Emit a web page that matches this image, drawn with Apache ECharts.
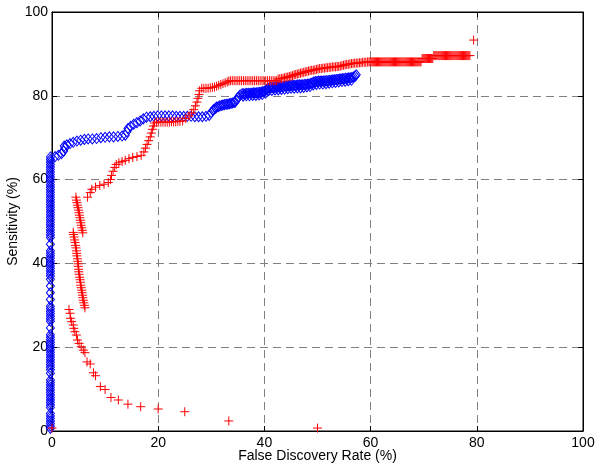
<!DOCTYPE html>
<html><head><meta charset="utf-8">
<script src="https://cdn.jsdelivr.net/npm/echarts@6/dist/echarts.min.js"></script>
<style>html,body{margin:0;padding:0;background:#fff}#c{width:600px;height:470px}</style>
</head><body><div id="c"></div>
<script>
// Axis ticks
const xTicks = [0, 20, 40, 60, 80, 100];
const yTicks = [0, 20, 40, 60, 80, 100];
const xTitle = 'False Discovery Rate (%)';
const yTitle = 'Sensitivity (%)';

// Blue (diamond) series: vertical column at FDR ~0
const blueColumnX = -0.3;
const blueColumnY = [0.6,1.2,1.8,2.4,3.0,3.6,4.2,5.6,6.2,6.8,7.4,8.0,8.6,9.2,9.8,10.4,11.0,11.6,12.2,13.8,14.6,15.2,15.8,16.4,17.0,17.6,18.2,18.8,19.4,20.0,20.6,21.2,21.8,22.4,23.0,24.6,26.2,26.8,27.4,28.0,28.6,29.2,29.8,31.4,33.0,34.6,36.2,37.0,37.6,38.2,38.8,39.4,40.0,40.6,41.2,41.8,42.4,43.0,44.6,46.2,46.8,47.4,48.0,48.6,49.2,49.8,50.4,51.0,51.6,52.2,52.8,53.4,54.0,54.6,55.2,55.8,56.4,57.0,57.6,58.2,58.8,59.4,60.0,60.6,61.2,61.8,62.4,63.0,63.6,64.2,64.8,65.4];
// Blue curve, low FDR part
const blueCurve = [[0.6,65.5],[1.2,65.8],[1.8,66.2],[2.2,66.8],[2.4,67.5],[2.3,68.0],[2.8,68.3],[3.4,68.6],[4.0,68.9],[4.7,69.2],[5.4,69.4],[6.1,69.6],[6.8,69.7],[7.6,69.7],[8.4,69.8],[9.2,70.0],[10.0,70.1],[10.8,70.2],[11.6,70.2],[12.4,70.3],[13.2,70.4],[13.8,70.6],[14.1,71.4],[14.3,72.2],[14.8,72.7],[15.4,73.2],[16.0,73.6],[16.6,74.0],[17.2,74.5],[17.8,74.9],[18.5,75.0],[19.2,75.1],[19.9,75.2],[20.6,75.2],[21.3,75.2],[22.0,75.2],[22.7,75.2],[23.4,75.1],[24.1,75.1],[24.8,75.1],[25.5,75.1],[26.2,75.1],[26.9,75.0],[27.6,75.0],[28.3,75.0],[29.0,75.1],[29.6,75.3],[30.0,76.0],[30.5,76.8],[31.0,77.3],[31.6,77.6],[32.2,77.8],[32.8,78.0],[33.4,78.1],[34.0,78.3],[34.5,78.5],[34.8,79.1],[35.1,79.7],[35.4,80.2],
 [30.3,76.5],[30.8,77.0],[31.3,77.4],[31.9,77.7],[32.5,77.9],[33.1,78.0],[33.7,78.2],[34.3,78.4]];
// Blue curve, dense band
const blueBand = [[35.8,80.5],[36.1,80.5],[36.4,80.5],[36.7,80.6],[37.0,80.6],[37.3,80.6],[37.6,80.6],[37.9,80.7],[38.2,80.7],[38.5,80.7],[38.8,80.8],[39.1,80.8],[39.4,80.9],[39.7,81.0],[40.0,81.1],[40.3,81.4],[40.6,81.7],[40.9,81.9],[41.2,82.0],[41.5,82.0],[41.8,82.0],[42.1,82.1],[42.4,82.1],[42.7,82.1],[43.0,82.2],[43.3,82.2],[43.6,82.2],[43.9,82.3],[44.2,82.3],[44.5,82.4],[44.8,82.4],[45.1,82.5],[45.4,82.5],[45.7,82.5],[46.0,82.5],[46.3,82.6],[46.6,82.6],[46.9,82.6],[47.2,82.6],[47.5,82.7],[47.8,82.7],[48.1,82.8],[48.4,82.8],[48.7,82.9],[49.0,83.1],[49.3,83.3],[49.6,83.4],[49.9,83.4],[50.2,83.5],[50.5,83.5],[50.8,83.5],[51.1,83.5],[51.4,83.6],[51.7,83.6],[52.0,83.6],[52.3,83.7],[52.6,83.7],[52.9,83.8],[53.2,83.8],[53.5,83.9],[53.8,83.9],[54.1,84.0],[54.4,84.0],[54.7,84.1],[55.0,84.1],[55.3,84.2],[55.6,84.2],[55.9,84.3],[56.2,84.3],[56.5,84.4],[56.8,84.5],[57.1,84.7],[57.3,85.0],
 [36.0,79.9],[36.6,80.0],[37.2,80.0],[37.8,80.1],[38.4,80.1],[39.0,80.2],[39.6,80.3],[40.2,80.6],[40.8,81.2],[41.4,81.3],[42.0,81.4],[42.6,81.4],[43.2,81.5],[43.8,81.6],[44.4,81.7],[45.0,81.8],[45.6,81.8],[46.2,81.9],[46.8,81.9],[47.4,82.0],[48.0,82.1],[48.6,82.2],[49.2,82.6],[49.8,82.7],[50.4,82.8],[51.0,82.8],[51.6,82.9],[52.2,83.0],[52.8,83.1],[53.4,83.2],[54.0,83.3],[54.6,83.4],[55.2,83.5],[55.8,83.6],[56.4,83.7]];

// Red (plus) series
const redTail = [[0,0.7],[50,0.7],[33.3,2.4],[25,4.6],[20,5.25],[16.7,5.8],[14.3,6.4],[12.5,7.4],[11.1,8.0],[10.0,9.9],[9.1,10.6],[8.2,13.2],[7.8,13.9],[7.2,16.0],[6.6,16.5],[6.2,18.7],[5.9,19.3],[5.5,20.1],[5.1,20.9],[4.8,21.7],[4.6,22.9],[4.3,23.7],[4.1,24.5],[4.0,25.3],[3.7,26.1],[3.5,26.9],[3.4,28.1],[3.2,29.0]];
const redMiddle = [[6.2,29.4],[6.1,30.0],[6.0,30.6],[5.9,31.2],[5.8,31.8],[5.75,32.4],[5.65,33.0],[5.6,33.6],[5.5,34.2],[5.4,34.8],[5.35,35.5],[5.3,36.1],[5.2,36.7],[5.1,37.4],[5.05,38.0],[5.0,38.6],[4.95,39.3],[4.9,39.9],[4.85,40.5],[4.8,41.1],[4.7,41.8],[4.65,42.4],[4.6,43.0],[4.5,43.7],[4.45,44.3],[4.35,45.0],[4.25,45.6],[4.15,46.3],[4.05,46.9],[4.0,47.4],
 [5.8,47.3],[5.7,47.9],[5.6,48.5],[5.5,49.1],[5.4,49.7],[5.35,50.3],[5.25,50.9],[5.15,51.5],[5.1,52.1],[5.0,52.7],[4.9,53.3],[4.8,53.9],[4.7,54.5],[4.6,55.1],[4.5,55.8]];
const redUpper = [[6.7,55.8],[7.2,56.9],[7.5,57.7],[8.2,58.2],[9.0,58.6],[9.8,58.9],[10.6,59.3],[11.0,60.0],[11.2,61.0],[11.5,62.0],[11.8,62.9],[12.1,63.6],[12.6,64.0],[13.2,64.3],[13.8,64.6],[14.5,65.0],[15.2,65.3],[16.0,65.5],[16.8,65.8],[17.3,66.6],[17.6,67.5],[17.9,68.4],[18.2,69.3],[18.5,70.2],[18.7,71.1],[18.9,72.0],[19.1,72.8],[19.3,73.5],[19.7,73.7],[20.1,73.7],[20.5,73.7],[20.9,73.7],[21.3,73.7],[21.7,73.7],[22.1,73.7],[22.5,73.8],[22.9,73.8],[23.3,73.8],[23.7,73.9],[24.1,73.9],[24.6,74.0],[25.2,74.6],[25.8,75.2],[26.3,75.9],[26.7,76.7],[27.0,77.6],[27.3,78.5],[27.5,79.4],[27.7,80.3],[27.8,81.2],[28.2,81.8],[28.6,81.8],[29.0,81.8],[29.4,81.8],[29.8,81.9],[30.2,82.0],[30.6,82.1],[31.0,82.3],[31.4,82.5],[31.8,82.7],[32.2,82.9],[32.6,83.1],[33.0,83.3],[33.3,83.5]];
const redRunY836 = 83.6;
const redRunX836 = [33.6,33.95,34.3,34.65,35.0,35.35,35.7,36.05,36.4,36.75,37.1,37.45,37.8,38.15,38.5,38.85,39.2,39.55,39.9,40.25,40.6,40.95,41.3,41.65,42.0,42.3];
const redRise = [[42.6,84.0],[42.9,84.1],[43.2,84.1],[43.5,84.2],[43.8,84.3],[44.1,84.4],[44.4,84.5],[44.7,84.6],[45.0,84.7],[45.3,84.8],[45.6,85.0],[45.9,85.1],[46.2,85.2],[46.5,85.3],[46.8,85.4],[47.1,85.5],[47.4,85.6],[47.7,85.7],[48.0,85.8],[48.3,85.9],[48.6,86.0],[48.9,86.1],[49.2,86.1],[49.5,86.2],[49.8,86.3],[50.1,86.4],[50.4,86.5],[50.7,86.5],[51.0,86.6],[51.3,86.6],[51.6,86.7],[51.9,86.7],[52.2,86.8],[52.5,86.8],[52.8,86.9],[53.1,86.9],[53.4,86.9],[53.7,87.0],[54.0,87.0],[54.3,87.1],[54.6,87.2],[54.9,87.3],[55.2,87.4],[55.5,87.5],[55.8,87.5],[56.1,87.6],[56.4,87.7],[56.7,87.7],[57.0,87.8],[57.3,87.8],[57.6,87.8],[57.9,87.9],[58.2,87.9],[58.5,88.0],[58.8,88.0],[59.1,88.0],[59.4,88.1],[59.7,88.1]];
const redRunY881 = 88.1;
const redRunX881 = [59.9,60.1,60.3,60.5,60.7,60.9,61.1,61.3,61.5,61.7,61.9,62.1,62.3,62.5,62.7,62.9,63.1,63.3,63.5,63.7,63.9,64.1,64.3,64.5,64.7,64.9,65.1,65.3,65.5,65.7,65.9,66.1,66.3,66.5,66.7,66.9,67.1,67.3,67.5,67.7,67.9,68.1,68.3,68.5,68.7,68.9,69.1,69.3,69.5];
const redRunY889 = 88.9;
const redRunX889 = [69.7,69.9,70.1,70.3,70.5,70.7,70.9,71.1,71.3,71.5,71.7];
const redRunY896 = 89.6;
const redRunX896 = [71.9,72.1,72.3,72.5,72.7,72.9,73.1,73.3,73.5,73.7,73.9,74.1,74.3,74.5,74.7,74.9,75.1,75.3,75.5,75.7,75.9,76.1,76.3,76.5,76.7,76.9,77.1,77.3,77.5,77.7,77.9,78.1,78.3,78.5,78.7];
const redOutlier = [[79.4,93.3]];

const blueData = blueColumnY.map(y => [blueColumnX, y]).concat(blueCurve, blueBand);
const redData = redTail.concat(redMiddle, redUpper,
  redRunX836.map(x => [x, redRunY836]), redRise,
  redRunX881.map(x => [x, redRunY881]),
  redRunX889.map(x => [x, redRunY889]),
  redRunX896.map(x => [x, redRunY896]), redOutlier);

const FONT = 'Liberation Sans, Arial, Helvetica, sans-serif';
const gridLine = {show: true, lineStyle: {color: '#808080', width: 1, type: [8, 5]}};
const chart = echarts.init(document.getElementById('c'), null, {renderer: 'canvas'});
chart.setOption({
  animation: false,
  backgroundColor: '#fff',
  grid: {left: 52, right: 17, top: 12, bottom: 39, containLabel: false, outerBoundsMode: 'none',
         show: true, borderColor: '#000', borderWidth: 1, backgroundColor: 'transparent'},
  xAxis: [{
    type: 'value', min: xTicks[0], max: xTicks[xTicks.length-1], interval: 20,
    name: xTitle, nameLocation: 'middle', nameGap: 18, nameMoveOverlap: false,
    nameTextStyle: {fontFamily: FONT, fontSize: 14, color: '#000'},
    axisLine: {show: true, onZero: false, lineStyle: {color: '#000', width: 1}},
    axisTick: {show: true, inside: true, length: 5, lineStyle: {color: '#000'}},
    axisLabel: {fontFamily: FONT, fontSize: 14, color: '#000', margin: 5},
    splitLine: gridLine
  }, {
    type: 'value', position: 'top', min: 0, max: 100, interval: 20,
    axisLine: {show: true, onZero: false, lineStyle: {color: '#000'}},
    axisTick: {show: true, inside: true, length: 5, lineStyle: {color: '#000'}},
    axisLabel: {show: false}, splitLine: {show: false}
  }],
  yAxis: [{
    type: 'value', min: yTicks[0], max: yTicks[yTicks.length-1], interval: 20,
    name: yTitle, nameLocation: 'middle', nameGap: 32, nameRotate: 90, nameMoveOverlap: false,
    nameTextStyle: {fontFamily: FONT, fontSize: 14, color: '#000'},
    axisLine: {show: true, onZero: false, lineStyle: {color: '#000', width: 1}},
    axisTick: {show: true, inside: true, length: 5, lineStyle: {color: '#000'}},
    axisLabel: {fontFamily: FONT, fontSize: 14, color: '#000', margin: 4},
    splitLine: gridLine
  }, {
    type: 'value', position: 'right', min: 0, max: 100, interval: 20,
    axisLine: {show: true, onZero: false, lineStyle: {color: '#000'}},
    axisTick: {show: true, inside: true, length: 5, lineStyle: {color: '#000'}},
    axisLabel: {show: false}, splitLine: {show: false}
  }],
  series: [{
    type: 'scatter', data: blueData, symbol: 'diamond', symbolSize: [8, 10],
    itemStyle: {color: 'none', borderColor: '#0000ff', borderWidth: 1, opacity: 1},
    emphasis: {disabled: true}, silent: true, clip: false
  }, {
    type: 'scatter', data: redData, symbol: 'path://M5,0L5,10M0,5L10,5', symbolSize: 9,
    itemStyle: {color: 'none', borderColor: '#ff0000', borderWidth: 1, opacity: 1},
    emphasis: {disabled: true}, silent: true, clip: false
  }]
});
</script></body></html>
